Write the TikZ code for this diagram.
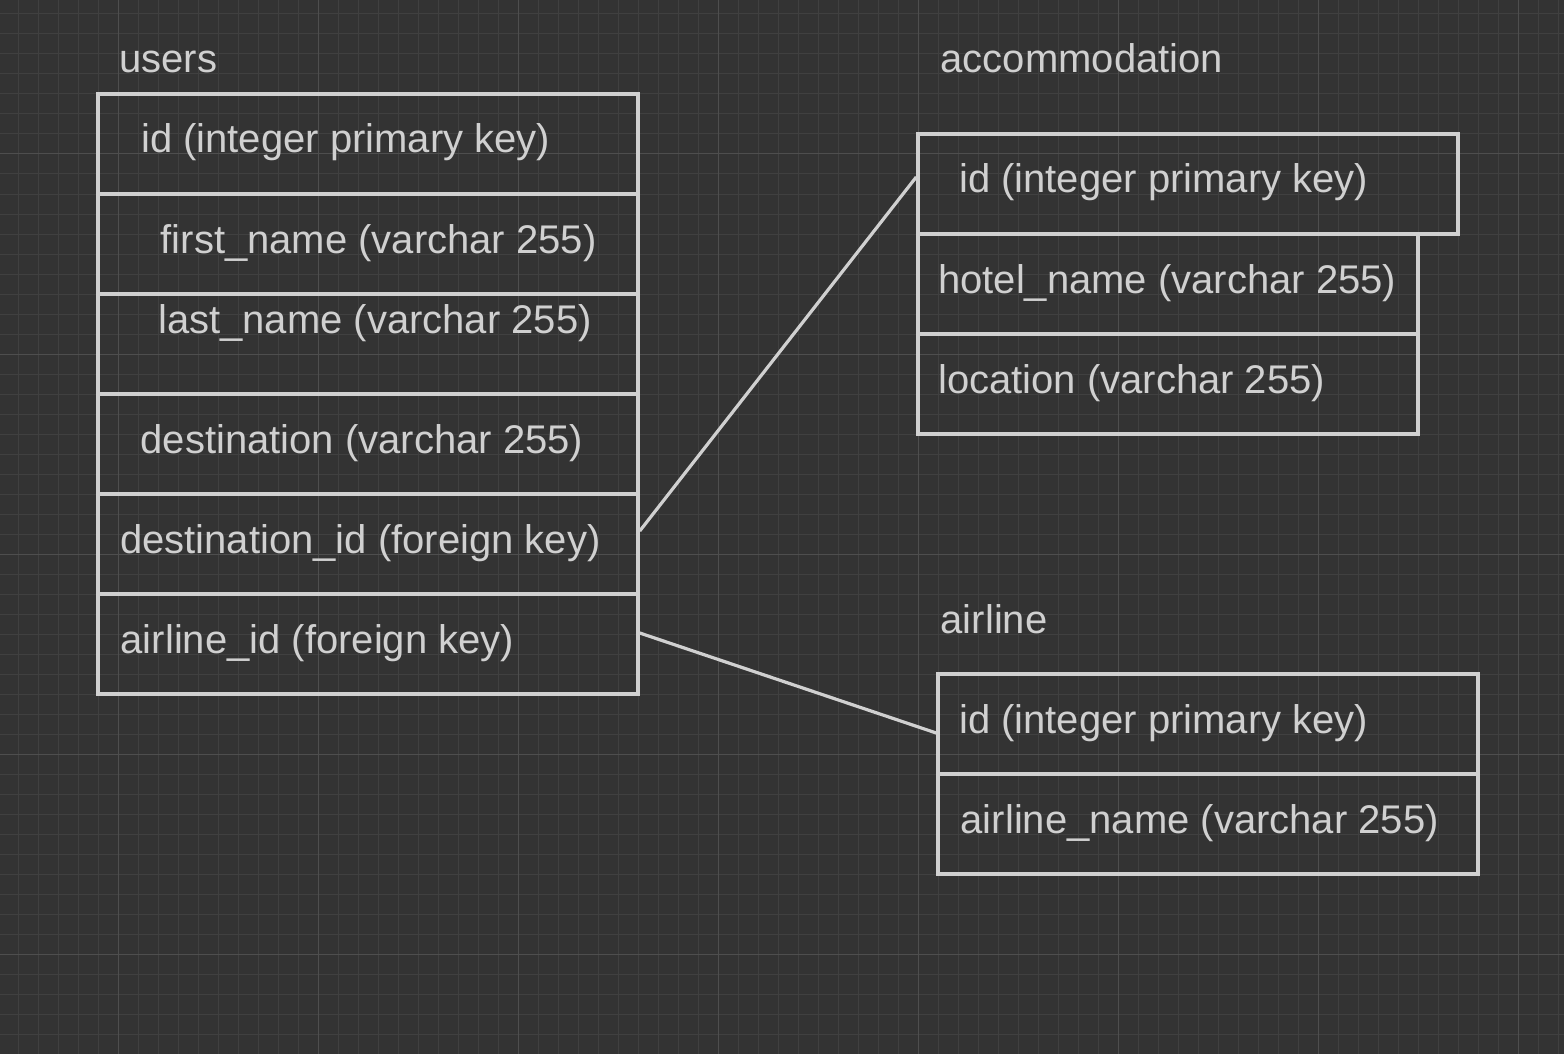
\documentclass[tikz,border=0pt]{standalone}
\usepackage{fontspec}
\setmainfont{Liberation Sans}

\definecolor{bgcol}{RGB}{51,51,51}
\definecolor{minorcol}{RGB}{64,64,64}
\definecolor{majorcol}{RGB}{78,78,78}
\definecolor{inkcol}{RGB}{208,208,208}

\begin{document}
\begin{tikzpicture}[
			x=1pt, y=-1pt,
			cell/.style={draw=inkcol, line width=3.5pt, minimum width=540pt, minimum height=100pt, inner sep=0pt},
			field/.style={anchor=base west, inner sep=0pt, text=inkcol, font=\fontsize{40}{48}\selectfont},
			link/.style={draw=inkcol, line width=3.2pt}]

		\useasboundingbox (0,0) rectangle (1564,1054);
		\fill[bgcol] (0,0) rectangle (1564,1054);
		% grid
		\foreach \x in {18,38,...,1558} \draw[minorcol, line width=1pt] (\x,0) -- (\x,1054);
		\foreach \y in {14,34,...,1054} \draw[minorcol, line width=1pt] (0,\y) -- (1564,\y);
		\foreach \x in {118,318,...,1518} \draw[majorcol, line width=1pt] (\x,0) -- (\x,1054);
		\foreach \y in {154,354,...,954} \draw[majorcol, line width=1pt] (0,\y) -- (1564,\y);

		% users
		\node[field](userstitle) at (119,73) {users};
		\node[cell](uid) at (368,144) {};
		\node[cell](ufirst) at (368,244) {};
		\node[cell](ulast) at (368,344) {};
		\node[cell](udest) at (368,444) {};
		\node[cell](udestid) at (368,544) {};
		\node[cell](uairid) at (368,644) {};
		\node[field](uidtxt) at (141,153) {id (integer primary key)};
		\node[field](ufirsttxt) at (160.5,253) {first\_name (varchar 255)};
		\node[field](ulasttxt) at (158,333) {last\_name (varchar 255)};
		\node[field](udesttxt) at (140.5,453) {destination (varchar 255)};
		\node[field](udestidtxt) at (120,553) {destination\_id (foreign key)};
		\node[field](uairidtxt) at (120.5,653) {airline\_id (foreign key)};

		% accommodation
		\node[field](acctitle) at (940.5,73) {accommodation};
		\node[cell](accid) at (1188,184) {};
		\node[cell, minimum width=500pt](acchotel) at (1168,284) {};
		\node[cell, minimum width=500pt](accloc) at (1168,384) {};
		\node[field](accidtxt) at (959,193) {id (integer primary key)};
		\node[field](acchoteltxt) at (938,293) {hotel\_name (varchar 255)};
		\node[field](accloctxt) at (938,393) {location (varchar 255)};

		% airline
		\node[field](airtitle) at (940.5,633) {airline};
		\node[cell](airid) at (1208,724) {};
		\node[cell](airname) at (1208,824) {};
		\node[field](airidtxt) at (959,733) {id (integer primary key)};
		\node[field](airnametxt) at (960.5,833) {airline\_name (varchar 255)};

		\draw[link] ([yshift=13pt]udestid.east) -- ([yshift=7pt]accid.west);
		\draw[link] ([yshift=11pt]uairid.east) -- ([yshift=-9pt]airid.west);
	\end{tikzpicture}
\end{document}
